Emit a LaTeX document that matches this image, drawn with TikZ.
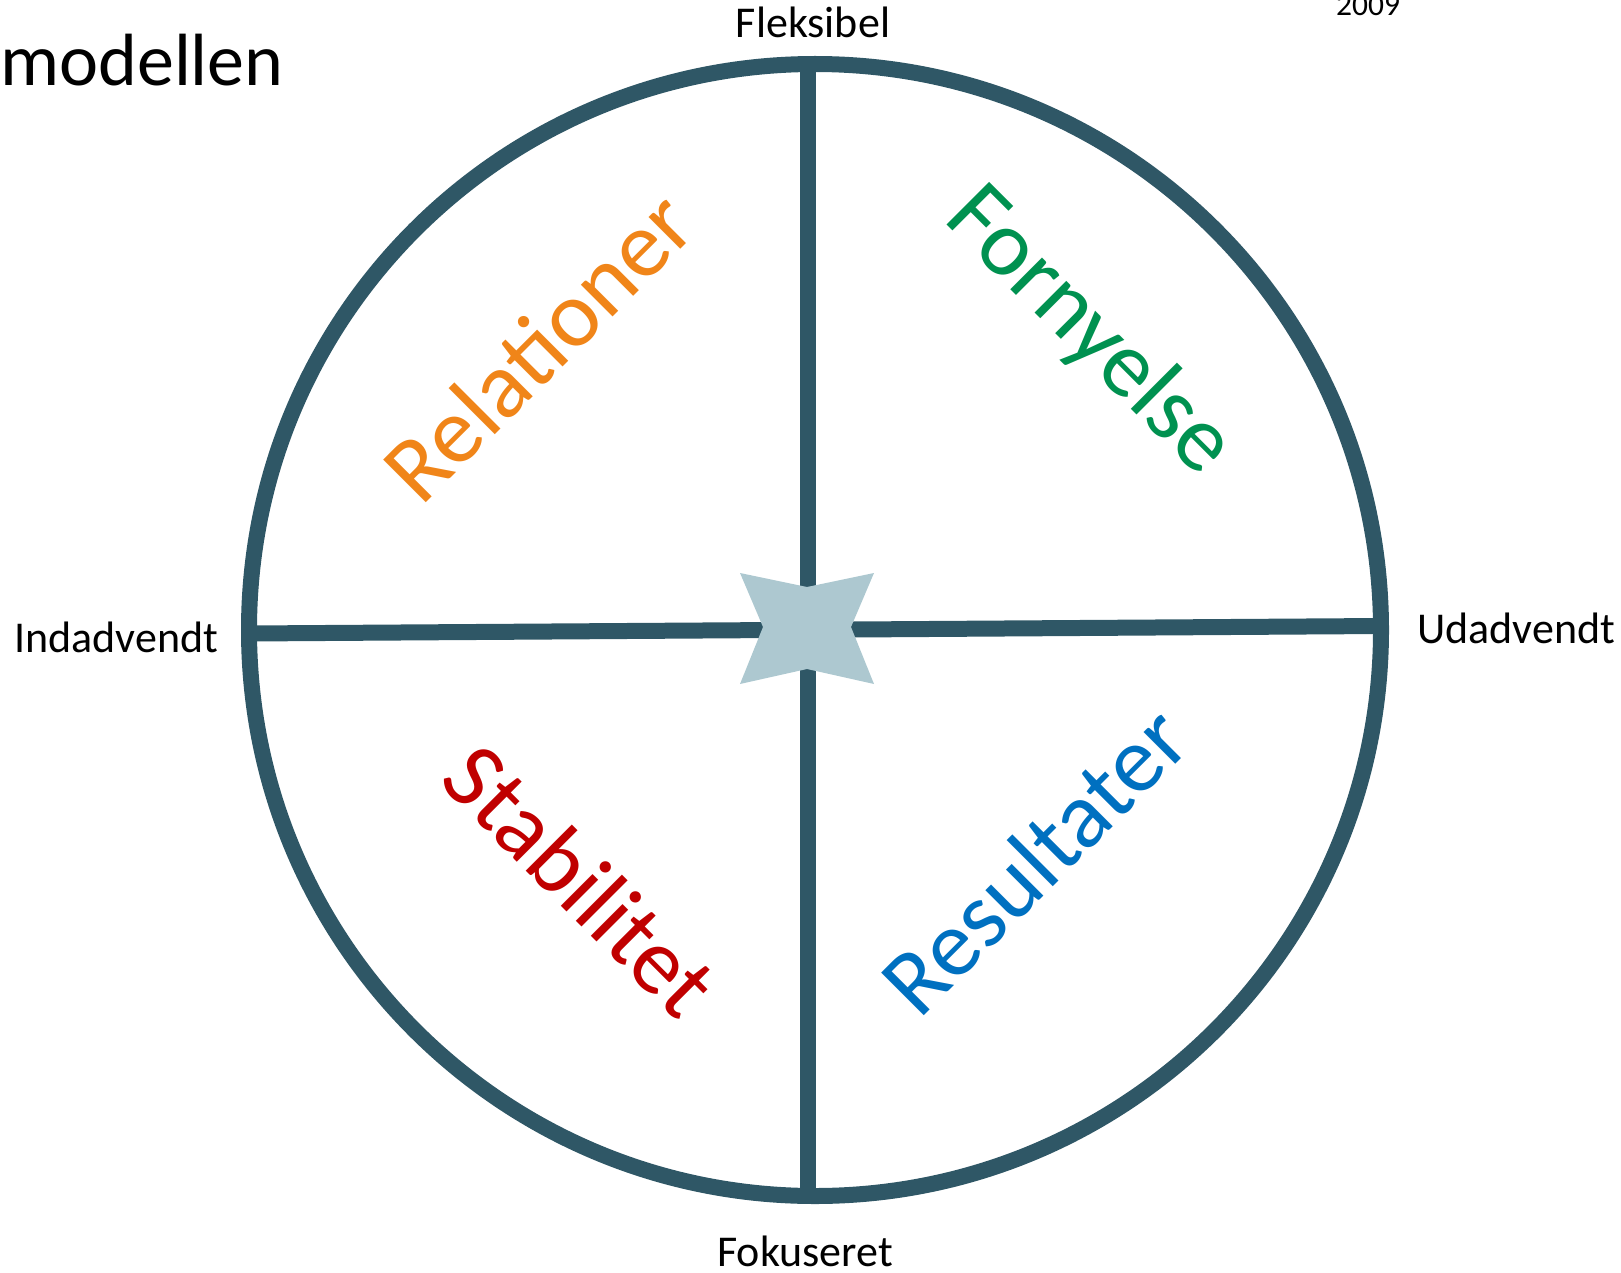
\documentclass[tikz,border=0pt]{standalone}
\usepackage{fontspec}
\setmainfont{Carlito}
\definecolor{cq-line}{HTML}{2F5766}
\definecolor{cq-star}{HTML}{ADC8D0}
\definecolor{cq-orange}{HTML}{F08519}
\definecolor{cq-green}{HTML}{009150}
\definecolor{cq-red}{HTML}{C00000}
\definecolor{cq-blue}{HTML}{0070C0}

\begin{document}
\begin{tikzpicture}[
    x=1pt, y=-1pt,
    axis/.style={draw=cq-line, line width=16pt},
    pole/.style={font=\fontsize{44}{52}\selectfont, inner sep=0pt},
    quad/.style={font=\fontsize{94}{104}\selectfont, inner sep=0pt}
]
\useasboundingbox (0,0) rectangle (1621,1273);

% =========================================================================
% TITEL
% =========================================================================
\node[inner sep=0pt, anchor=base west, font=\fontsize{74}{84}\selectfont] (title) at (0,86) {modellen};
\node[inner sep=0pt, anchor=base west, font=\fontsize{31.5}{38}\selectfont] (year) at (1336,16) {2009};

% =========================================================================
% CIRKEL OG AKSER
% =========================================================================
\coordinate (top)    at (808,64);
\coordinate (bottom) at (808,1196);
\coordinate (left)   at (249,633.5);
\coordinate (right)  at (1381,626);

\draw[axis] (top) -- (bottom);
\draw[axis] (left) -- (right);
\draw[axis] (815,630) circle[radius=566pt];

% stjerne i midten
\fill[cq-star] (740,573) -- (807,587) -- (874,573) -- (851,627) -- (874,684)
    -- (807,669) -- (740,684) -- (763,627) -- cycle;

% =========================================================================
% POLER
% =========================================================================
\node[pole, anchor=base] (flex)  at (813,38)    {Fleksibel};
\node[pole, anchor=base] (fokus) at (805,1266)  {Fokuseret};
\node[pole, anchor=base west] (ind) at (14,652)  {Indadvendt};
\node[pole, anchor=base west] (ud)  at (1417,643) {Udadvendt};

% =========================================================================
% KVADRANTER
% =========================================================================
\node[quad, text=cq-orange, rotate=45]  (rel)  at (538,346)  {Relationer};
\node[quad, text=cq-green,  rotate=-45] (forn) at (1089,332) {Fornyelse};
\node[quad, text=cq-red,    rotate=-45] (stab) at (581,880)  {Stabilitet};
\node[quad, text=cq-blue,   rotate=45]  (res)  at (1034,860) {Resultater};

\end{tikzpicture}
\end{document}
